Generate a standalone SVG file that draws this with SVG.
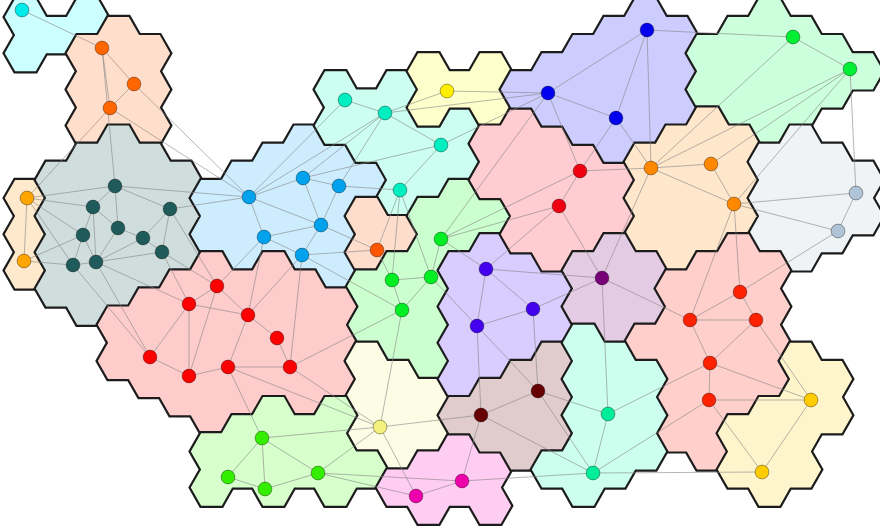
<svg xmlns="http://www.w3.org/2000/svg" xmlns:xlink="http://www.w3.org/1999/xlink" width="880" height="530" viewBox="0 0 880 530">
<style>
.o{fill:none;stroke:#1c1c1c;stroke-width:4.4;stroke-linejoin:miter}
.e line{stroke:#858585;stroke-width:0.8;stroke-opacity:0.75}
.n circle{r:6.9;stroke:#000;stroke-opacity:0.45;stroke-width:0.8}
</style>
<defs>
<path id="p-cyan" d="M4.8 17l10.33-18.1h20.67l10.33 18.1-10.33 18.1h-20.67zM4.8 53.2l10.33-18.1h20.67l10.33 18.1-10.33 18.1h-20.67zM35.8 35.1l10.33-18.1h20.67l10.33 18.1-10.33 18.1h-20.67zM66.8 17l10.33-18.1h20.67l10.33 18.1-10.33 18.1h-20.67z"/>
<path id="p-peach" d="M66.8 53.2l10.33-18.1h20.67l10.33 18.1-10.33 18.1h-20.67zM66.8 89.4l10.33-18.1h20.67l10.33 18.1-10.33 18.1h-20.67zM66.8 125.6l10.33-18.1h20.67l10.33 18.1-10.33 18.1h-20.67zM97.8 35.1l10.33-18.1h20.67l10.33 18.1-10.33 18.1h-20.67zM97.8 71.3l10.33-18.1h20.67l10.33 18.1-10.33 18.1h-20.67zM97.8 107.5l10.33-18.1h20.67l10.33 18.1-10.33 18.1h-20.67zM128.8 53.2l10.33-18.1h20.67l10.33 18.1-10.33 18.1h-20.67zM128.8 89.4l10.33-18.1h20.67l10.33 18.1-10.33 18.1h-20.67zM128.8 125.6l10.33-18.1h20.67l10.33 18.1-10.33 18.1h-20.67z"/>
<path id="p-beige" d="M4.8 198l10.33-18.1h20.67l10.33 18.1-10.33 18.1h-20.67zM4.8 234.2l10.33-18.1h20.67l10.33 18.1-10.33 18.1h-20.67zM4.8 270.4l10.33-18.1h20.67l10.33 18.1-10.33 18.1h-20.67z"/>
<path id="p-slate" d="M35.8 179.9l10.33-18.1h20.67l10.33 18.1-10.33 18.1h-20.67zM35.8 216.1l10.33-18.1h20.67l10.33 18.1-10.33 18.1h-20.67zM35.8 252.3l10.33-18.1h20.67l10.33 18.1-10.33 18.1h-20.67zM35.8 288.5l10.33-18.1h20.67l10.33 18.1-10.33 18.1h-20.67zM66.8 161.8l10.33-18.1h20.67l10.33 18.1-10.33 18.1h-20.67zM66.8 198l10.33-18.1h20.67l10.33 18.1-10.33 18.1h-20.67zM66.8 234.2l10.33-18.1h20.67l10.33 18.1-10.33 18.1h-20.67zM66.8 270.4l10.33-18.1h20.67l10.33 18.1-10.33 18.1h-20.67zM66.8 306.6l10.33-18.1h20.67l10.33 18.1-10.33 18.1h-20.67zM97.8 143.7l10.33-18.1h20.67l10.33 18.1-10.33 18.1h-20.67zM97.8 179.9l10.33-18.1h20.67l10.33 18.1-10.33 18.1h-20.67zM97.8 216.1l10.33-18.1h20.67l10.33 18.1-10.33 18.1h-20.67zM97.8 252.3l10.33-18.1h20.67l10.33 18.1-10.33 18.1h-20.67zM97.8 288.5l10.33-18.1h20.67l10.33 18.1-10.33 18.1h-20.67zM128.8 161.8l10.33-18.1h20.67l10.33 18.1-10.33 18.1h-20.67zM128.8 198l10.33-18.1h20.67l10.33 18.1-10.33 18.1h-20.67zM128.8 234.2l10.33-18.1h20.67l10.33 18.1-10.33 18.1h-20.67zM128.8 270.4l10.33-18.1h20.67l10.33 18.1-10.33 18.1h-20.67zM159.8 179.9l10.33-18.1h20.67l10.33 18.1-10.33 18.1h-20.67zM159.8 216.1l10.33-18.1h20.67l10.33 18.1-10.33 18.1h-20.67zM159.8 252.3l10.33-18.1h20.67l10.33 18.1-10.33 18.1h-20.67z"/>
<path id="p-blue" d="M190.8 198l10.33-18.1h20.67l10.33 18.1-10.33 18.1h-20.67zM190.8 234.2l10.33-18.1h20.67l10.33 18.1-10.33 18.1h-20.67zM221.8 179.9l10.33-18.1h20.67l10.33 18.1-10.33 18.1h-20.67zM221.8 216.1l10.33-18.1h20.67l10.33 18.1-10.33 18.1h-20.67zM221.8 252.3l10.33-18.1h20.67l10.33 18.1-10.33 18.1h-20.67zM252.8 161.8l10.33-18.1h20.67l10.33 18.1-10.33 18.1h-20.67zM252.8 198l10.33-18.1h20.67l10.33 18.1-10.33 18.1h-20.67zM252.8 234.2l10.33-18.1h20.67l10.33 18.1-10.33 18.1h-20.67zM283.8 143.7l10.33-18.1h20.67l10.33 18.1-10.33 18.1h-20.67zM283.8 179.9l10.33-18.1h20.67l10.33 18.1-10.33 18.1h-20.67zM283.8 216.1l10.33-18.1h20.67l10.33 18.1-10.33 18.1h-20.67zM283.8 252.3l10.33-18.1h20.67l10.33 18.1-10.33 18.1h-20.67zM314.8 161.8l10.33-18.1h20.67l10.33 18.1-10.33 18.1h-20.67zM314.8 198l10.33-18.1h20.67l10.33 18.1-10.33 18.1h-20.67zM314.8 234.2l10.33-18.1h20.67l10.33 18.1-10.33 18.1h-20.67zM314.8 270.4l10.33-18.1h20.67l10.33 18.1-10.33 18.1h-20.67zM345.8 179.9l10.33-18.1h20.67l10.33 18.1-10.33 18.1h-20.67z"/>
<path id="p-aqua" d="M314.8 89.4l10.33-18.1h20.67l10.33 18.1-10.33 18.1h-20.67zM314.8 125.6l10.33-18.1h20.67l10.33 18.1-10.33 18.1h-20.67zM345.8 107.5l10.33-18.1h20.67l10.33 18.1-10.33 18.1h-20.67zM345.8 143.7l10.33-18.1h20.67l10.33 18.1-10.33 18.1h-20.67zM376.8 89.4l10.33-18.1h20.67l10.33 18.1-10.33 18.1h-20.67zM376.8 125.6l10.33-18.1h20.67l10.33 18.1-10.33 18.1h-20.67zM376.8 161.8l10.33-18.1h20.67l10.33 18.1-10.33 18.1h-20.67zM376.8 198l10.33-18.1h20.67l10.33 18.1-10.33 18.1h-20.67zM407.8 143.7l10.33-18.1h20.67l10.33 18.1-10.33 18.1h-20.67zM407.8 179.9l10.33-18.1h20.67l10.33 18.1-10.33 18.1h-20.67zM438.8 125.6l10.33-18.1h20.67l10.33 18.1-10.33 18.1h-20.67zM438.8 161.8l10.33-18.1h20.67l10.33 18.1-10.33 18.1h-20.67z"/>
<path id="p-yellow" d="M407.8 71.3l10.33-18.1h20.67l10.33 18.1-10.33 18.1h-20.67zM407.8 107.5l10.33-18.1h20.67l10.33 18.1-10.33 18.1h-20.67zM438.8 89.4l10.33-18.1h20.67l10.33 18.1-10.33 18.1h-20.67zM469.8 71.3l10.33-18.1h20.67l10.33 18.1-10.33 18.1h-20.67zM469.8 107.5l10.33-18.1h20.67l10.33 18.1-10.33 18.1h-20.67z"/>
<path id="p-speach" d="M345.8 216.1l10.33-18.1h20.67l10.33 18.1-10.33 18.1h-20.67zM345.8 252.3l10.33-18.1h20.67l10.33 18.1-10.33 18.1h-20.67zM376.8 234.2l10.33-18.1h20.67l10.33 18.1-10.33 18.1h-20.67z"/>
<path id="p-gmid" d="M345.8 288.5l10.33-18.1h20.67l10.33 18.1-10.33 18.1h-20.67zM345.8 324.7l10.33-18.1h20.67l10.33 18.1-10.33 18.1h-20.67zM376.8 270.4l10.33-18.1h20.67l10.33 18.1-10.33 18.1h-20.67zM376.8 306.6l10.33-18.1h20.67l10.33 18.1-10.33 18.1h-20.67zM376.8 342.8l10.33-18.1h20.67l10.33 18.1-10.33 18.1h-20.67zM407.8 216.1l10.33-18.1h20.67l10.33 18.1-10.33 18.1h-20.67zM407.8 252.3l10.33-18.1h20.67l10.33 18.1-10.33 18.1h-20.67zM407.8 288.5l10.33-18.1h20.67l10.33 18.1-10.33 18.1h-20.67zM407.8 324.7l10.33-18.1h20.67l10.33 18.1-10.33 18.1h-20.67zM407.8 360.9l10.33-18.1h20.67l10.33 18.1-10.33 18.1h-20.67zM438.8 198l10.33-18.1h20.67l10.33 18.1-10.33 18.1h-20.67zM438.8 234.2l10.33-18.1h20.67l10.33 18.1-10.33 18.1h-20.67zM469.8 216.1l10.33-18.1h20.67l10.33 18.1-10.33 18.1h-20.67z"/>
<path id="p-redl" d="M97.8 324.7l10.33-18.1h20.67l10.33 18.1-10.33 18.1h-20.67zM97.8 360.9l10.33-18.1h20.67l10.33 18.1-10.33 18.1h-20.67zM128.8 306.6l10.33-18.1h20.67l10.33 18.1-10.33 18.1h-20.67zM128.8 342.8l10.33-18.1h20.67l10.33 18.1-10.33 18.1h-20.67zM128.8 379l10.33-18.1h20.67l10.33 18.1-10.33 18.1h-20.67zM159.8 288.5l10.33-18.1h20.67l10.33 18.1-10.33 18.1h-20.67zM159.8 324.7l10.33-18.1h20.67l10.33 18.1-10.33 18.1h-20.67zM159.8 360.9l10.33-18.1h20.67l10.33 18.1-10.33 18.1h-20.67zM159.8 397.1l10.33-18.1h20.67l10.33 18.1-10.33 18.1h-20.67zM190.8 270.4l10.33-18.1h20.67l10.33 18.1-10.33 18.1h-20.67zM190.8 306.6l10.33-18.1h20.67l10.33 18.1-10.33 18.1h-20.67zM190.8 342.8l10.33-18.1h20.67l10.33 18.1-10.33 18.1h-20.67zM190.8 379l10.33-18.1h20.67l10.33 18.1-10.33 18.1h-20.67zM190.8 415.2l10.33-18.1h20.67l10.33 18.1-10.33 18.1h-20.67zM221.8 288.5l10.33-18.1h20.67l10.33 18.1-10.33 18.1h-20.67zM221.8 324.7l10.33-18.1h20.67l10.33 18.1-10.33 18.1h-20.67zM221.8 360.9l10.33-18.1h20.67l10.33 18.1-10.33 18.1h-20.67zM221.8 397.1l10.33-18.1h20.67l10.33 18.1-10.33 18.1h-20.67zM252.8 270.4l10.33-18.1h20.67l10.33 18.1-10.33 18.1h-20.67zM252.8 306.6l10.33-18.1h20.67l10.33 18.1-10.33 18.1h-20.67zM252.8 342.8l10.33-18.1h20.67l10.33 18.1-10.33 18.1h-20.67zM252.8 379l10.33-18.1h20.67l10.33 18.1-10.33 18.1h-20.67zM283.8 288.5l10.33-18.1h20.67l10.33 18.1-10.33 18.1h-20.67zM283.8 324.7l10.33-18.1h20.67l10.33 18.1-10.33 18.1h-20.67zM283.8 360.9l10.33-18.1h20.67l10.33 18.1-10.33 18.1h-20.67zM283.8 397.1l10.33-18.1h20.67l10.33 18.1-10.33 18.1h-20.67zM314.8 306.6l10.33-18.1h20.67l10.33 18.1-10.33 18.1h-20.67zM314.8 342.8l10.33-18.1h20.67l10.33 18.1-10.33 18.1h-20.67zM314.8 379l10.33-18.1h20.67l10.33 18.1-10.33 18.1h-20.67z"/>
<path id="p-cream" d="M345.8 360.9l10.33-18.1h20.67l10.33 18.1-10.33 18.1h-20.67zM345.8 397.1l10.33-18.1h20.67l10.33 18.1-10.33 18.1h-20.67zM345.8 433.3l10.33-18.1h20.67l10.33 18.1-10.33 18.1h-20.67zM376.8 379l10.33-18.1h20.67l10.33 18.1-10.33 18.1h-20.67zM376.8 415.2l10.33-18.1h20.67l10.33 18.1-10.33 18.1h-20.67zM376.8 451.4l10.33-18.1h20.67l10.33 18.1-10.33 18.1h-20.67zM407.8 397.1l10.33-18.1h20.67l10.33 18.1-10.33 18.1h-20.67zM407.8 433.3l10.33-18.1h20.67l10.33 18.1-10.33 18.1h-20.67z"/>
<path id="p-gbot" d="M190.8 451.4l10.33-18.1h20.67l10.33 18.1-10.33 18.1h-20.67zM190.8 487.6l10.33-18.1h20.67l10.33 18.1-10.33 18.1h-20.67zM221.8 433.3l10.33-18.1h20.67l10.33 18.1-10.33 18.1h-20.67zM221.8 469.5l10.33-18.1h20.67l10.33 18.1-10.33 18.1h-20.67zM252.8 415.2l10.33-18.1h20.67l10.33 18.1-10.33 18.1h-20.67zM252.8 451.4l10.33-18.1h20.67l10.33 18.1-10.33 18.1h-20.67zM252.8 487.6l10.33-18.1h20.67l10.33 18.1-10.33 18.1h-20.67zM283.8 433.3l10.33-18.1h20.67l10.33 18.1-10.33 18.1h-20.67zM283.8 469.5l10.33-18.1h20.67l10.33 18.1-10.33 18.1h-20.67zM314.8 415.2l10.33-18.1h20.67l10.33 18.1-10.33 18.1h-20.67zM314.8 451.4l10.33-18.1h20.67l10.33 18.1-10.33 18.1h-20.67zM314.8 487.6l10.33-18.1h20.67l10.33 18.1-10.33 18.1h-20.67zM345.8 469.5l10.33-18.1h20.67l10.33 18.1-10.33 18.1h-20.67z"/>
<path id="p-pink" d="M376.8 487.6l10.33-18.1h20.67l10.33 18.1-10.33 18.1h-20.67zM407.8 469.5l10.33-18.1h20.67l10.33 18.1-10.33 18.1h-20.67zM407.8 505.7l10.33-18.1h20.67l10.33 18.1-10.33 18.1h-20.67zM438.8 451.4l10.33-18.1h20.67l10.33 18.1-10.33 18.1h-20.67zM438.8 487.6l10.33-18.1h20.67l10.33 18.1-10.33 18.1h-20.67zM469.8 469.5l10.33-18.1h20.67l10.33 18.1-10.33 18.1h-20.67zM469.8 505.7l10.33-18.1h20.67l10.33 18.1-10.33 18.1h-20.67z"/>
<path id="p-violet" d="M438.8 270.4l10.33-18.1h20.67l10.33 18.1-10.33 18.1h-20.67zM438.8 306.6l10.33-18.1h20.67l10.33 18.1-10.33 18.1h-20.67zM438.8 342.8l10.33-18.1h20.67l10.33 18.1-10.33 18.1h-20.67zM438.8 379l10.33-18.1h20.67l10.33 18.1-10.33 18.1h-20.67zM469.8 252.3l10.33-18.1h20.67l10.33 18.1-10.33 18.1h-20.67zM469.8 288.5l10.33-18.1h20.67l10.33 18.1-10.33 18.1h-20.67zM469.8 324.7l10.33-18.1h20.67l10.33 18.1-10.33 18.1h-20.67zM469.8 360.9l10.33-18.1h20.67l10.33 18.1-10.33 18.1h-20.67zM500.8 270.4l10.33-18.1h20.67l10.33 18.1-10.33 18.1h-20.67zM500.8 306.6l10.33-18.1h20.67l10.33 18.1-10.33 18.1h-20.67zM500.8 342.8l10.33-18.1h20.67l10.33 18.1-10.33 18.1h-20.67zM531.8 288.5l10.33-18.1h20.67l10.33 18.1-10.33 18.1h-20.67zM531.8 324.7l10.33-18.1h20.67l10.33 18.1-10.33 18.1h-20.67z"/>
<path id="p-brown" d="M438.8 415.2l10.33-18.1h20.67l10.33 18.1-10.33 18.1h-20.67zM469.8 397.1l10.33-18.1h20.67l10.33 18.1-10.33 18.1h-20.67zM469.8 433.3l10.33-18.1h20.67l10.33 18.1-10.33 18.1h-20.67zM500.8 379l10.33-18.1h20.67l10.33 18.1-10.33 18.1h-20.67zM500.8 415.2l10.33-18.1h20.67l10.33 18.1-10.33 18.1h-20.67zM500.8 451.4l10.33-18.1h20.67l10.33 18.1-10.33 18.1h-20.67zM531.8 360.9l10.33-18.1h20.67l10.33 18.1-10.33 18.1h-20.67zM531.8 397.1l10.33-18.1h20.67l10.33 18.1-10.33 18.1h-20.67zM531.8 433.3l10.33-18.1h20.67l10.33 18.1-10.33 18.1h-20.67z"/>
<path id="p-pred" d="M469.8 143.7l10.33-18.1h20.67l10.33 18.1-10.33 18.1h-20.67zM469.8 179.9l10.33-18.1h20.67l10.33 18.1-10.33 18.1h-20.67zM500.8 125.6l10.33-18.1h20.67l10.33 18.1-10.33 18.1h-20.67zM500.8 161.8l10.33-18.1h20.67l10.33 18.1-10.33 18.1h-20.67zM500.8 198l10.33-18.1h20.67l10.33 18.1-10.33 18.1h-20.67zM500.8 234.2l10.33-18.1h20.67l10.33 18.1-10.33 18.1h-20.67zM531.8 143.7l10.33-18.1h20.67l10.33 18.1-10.33 18.1h-20.67zM531.8 179.9l10.33-18.1h20.67l10.33 18.1-10.33 18.1h-20.67zM531.8 216.1l10.33-18.1h20.67l10.33 18.1-10.33 18.1h-20.67zM531.8 252.3l10.33-18.1h20.67l10.33 18.1-10.33 18.1h-20.67zM562.8 161.8l10.33-18.1h20.67l10.33 18.1-10.33 18.1h-20.67zM562.8 198l10.33-18.1h20.67l10.33 18.1-10.33 18.1h-20.67zM562.8 234.2l10.33-18.1h20.67l10.33 18.1-10.33 18.1h-20.67zM593.8 179.9l10.33-18.1h20.67l10.33 18.1-10.33 18.1h-20.67zM593.8 216.1l10.33-18.1h20.67l10.33 18.1-10.33 18.1h-20.67z"/>
<path id="p-bviol" d="M500.8 89.4l10.33-18.1h20.67l10.33 18.1-10.33 18.1h-20.67zM531.8 71.3l10.33-18.1h20.67l10.33 18.1-10.33 18.1h-20.67zM531.8 107.5l10.33-18.1h20.67l10.33 18.1-10.33 18.1h-20.67zM562.8 53.2l10.33-18.1h20.67l10.33 18.1-10.33 18.1h-20.67zM562.8 89.4l10.33-18.1h20.67l10.33 18.1-10.33 18.1h-20.67zM562.8 125.6l10.33-18.1h20.67l10.33 18.1-10.33 18.1h-20.67zM593.8 35.1l10.33-18.1h20.67l10.33 18.1-10.33 18.1h-20.67zM593.8 71.3l10.33-18.1h20.67l10.33 18.1-10.33 18.1h-20.67zM593.8 107.5l10.33-18.1h20.67l10.33 18.1-10.33 18.1h-20.67zM593.8 143.7l10.33-18.1h20.67l10.33 18.1-10.33 18.1h-20.67zM624.8 17l10.33-18.1h20.67l10.33 18.1-10.33 18.1h-20.67zM624.8 53.2l10.33-18.1h20.67l10.33 18.1-10.33 18.1h-20.67zM624.8 89.4l10.33-18.1h20.67l10.33 18.1-10.33 18.1h-20.67zM624.8 125.6l10.33-18.1h20.67l10.33 18.1-10.33 18.1h-20.67zM655.8 35.1l10.33-18.1h20.67l10.33 18.1-10.33 18.1h-20.67zM655.8 71.3l10.33-18.1h20.67l10.33 18.1-10.33 18.1h-20.67zM655.8 107.5l10.33-18.1h20.67l10.33 18.1-10.33 18.1h-20.67z"/>
<path id="p-gtr" d="M686.8 53.2l10.33-18.1h20.67l10.33 18.1-10.33 18.1h-20.67zM686.8 89.4l10.33-18.1h20.67l10.33 18.1-10.33 18.1h-20.67zM717.8 35.1l10.33-18.1h20.67l10.33 18.1-10.33 18.1h-20.67zM717.8 71.3l10.33-18.1h20.67l10.33 18.1-10.33 18.1h-20.67zM717.8 107.5l10.33-18.1h20.67l10.33 18.1-10.33 18.1h-20.67zM748.8 17l10.33-18.1h20.67l10.33 18.1-10.33 18.1h-20.67zM748.8 53.2l10.33-18.1h20.67l10.33 18.1-10.33 18.1h-20.67zM748.8 89.4l10.33-18.1h20.67l10.33 18.1-10.33 18.1h-20.67zM748.8 125.6l10.33-18.1h20.67l10.33 18.1-10.33 18.1h-20.67zM779.8 35.1l10.33-18.1h20.67l10.33 18.1-10.33 18.1h-20.67zM779.8 71.3l10.33-18.1h20.67l10.33 18.1-10.33 18.1h-20.67zM779.8 107.5l10.33-18.1h20.67l10.33 18.1-10.33 18.1h-20.67zM810.8 53.2l10.33-18.1h20.67l10.33 18.1-10.33 18.1h-20.67zM810.8 89.4l10.33-18.1h20.67l10.33 18.1-10.33 18.1h-20.67zM841.8 71.3l10.33-18.1h20.67l10.33 18.1-10.33 18.1h-20.67z"/>
<path id="p-porange" d="M624.8 161.8l10.33-18.1h20.67l10.33 18.1-10.33 18.1h-20.67zM624.8 198l10.33-18.1h20.67l10.33 18.1-10.33 18.1h-20.67zM624.8 234.2l10.33-18.1h20.67l10.33 18.1-10.33 18.1h-20.67zM655.8 143.7l10.33-18.1h20.67l10.33 18.1-10.33 18.1h-20.67zM655.8 179.9l10.33-18.1h20.67l10.33 18.1-10.33 18.1h-20.67zM655.8 216.1l10.33-18.1h20.67l10.33 18.1-10.33 18.1h-20.67zM655.8 252.3l10.33-18.1h20.67l10.33 18.1-10.33 18.1h-20.67zM686.8 125.6l10.33-18.1h20.67l10.33 18.1-10.33 18.1h-20.67zM686.8 161.8l10.33-18.1h20.67l10.33 18.1-10.33 18.1h-20.67zM686.8 198l10.33-18.1h20.67l10.33 18.1-10.33 18.1h-20.67zM686.8 234.2l10.33-18.1h20.67l10.33 18.1-10.33 18.1h-20.67zM717.8 143.7l10.33-18.1h20.67l10.33 18.1-10.33 18.1h-20.67zM717.8 179.9l10.33-18.1h20.67l10.33 18.1-10.33 18.1h-20.67zM717.8 216.1l10.33-18.1h20.67l10.33 18.1-10.33 18.1h-20.67z"/>
<path id="p-greyr" d="M748.8 161.8l10.33-18.1h20.67l10.33 18.1-10.33 18.1h-20.67zM748.8 198l10.33-18.1h20.67l10.33 18.1-10.33 18.1h-20.67zM748.8 234.2l10.33-18.1h20.67l10.33 18.1-10.33 18.1h-20.67zM779.8 143.7l10.33-18.1h20.67l10.33 18.1-10.33 18.1h-20.67zM779.8 179.9l10.33-18.1h20.67l10.33 18.1-10.33 18.1h-20.67zM779.8 216.1l10.33-18.1h20.67l10.33 18.1-10.33 18.1h-20.67zM779.8 252.3l10.33-18.1h20.67l10.33 18.1-10.33 18.1h-20.67zM810.8 161.8l10.33-18.1h20.67l10.33 18.1-10.33 18.1h-20.67zM810.8 198l10.33-18.1h20.67l10.33 18.1-10.33 18.1h-20.67zM810.8 234.2l10.33-18.1h20.67l10.33 18.1-10.33 18.1h-20.67zM841.8 179.9l10.33-18.1h20.67l10.33 18.1-10.33 18.1h-20.67zM841.8 216.1l10.33-18.1h20.67l10.33 18.1-10.33 18.1h-20.67z"/>
<path id="p-purple" d="M562.8 270.4l10.33-18.1h20.67l10.33 18.1-10.33 18.1h-20.67zM562.8 306.6l10.33-18.1h20.67l10.33 18.1-10.33 18.1h-20.67zM593.8 252.3l10.33-18.1h20.67l10.33 18.1-10.33 18.1h-20.67zM593.8 288.5l10.33-18.1h20.67l10.33 18.1-10.33 18.1h-20.67zM593.8 324.7l10.33-18.1h20.67l10.33 18.1-10.33 18.1h-20.67zM624.8 270.4l10.33-18.1h20.67l10.33 18.1-10.33 18.1h-20.67zM624.8 306.6l10.33-18.1h20.67l10.33 18.1-10.33 18.1h-20.67z"/>
<path id="p-redr" d="M624.8 342.8l10.33-18.1h20.67l10.33 18.1-10.33 18.1h-20.67zM655.8 288.5l10.33-18.1h20.67l10.33 18.1-10.33 18.1h-20.67zM655.8 324.7l10.33-18.1h20.67l10.33 18.1-10.33 18.1h-20.67zM655.8 360.9l10.33-18.1h20.67l10.33 18.1-10.33 18.1h-20.67zM655.8 397.1l10.33-18.1h20.67l10.33 18.1-10.33 18.1h-20.67zM655.8 433.3l10.33-18.1h20.67l10.33 18.1-10.33 18.1h-20.67zM686.8 270.4l10.33-18.1h20.67l10.33 18.1-10.33 18.1h-20.67zM686.8 306.6l10.33-18.1h20.67l10.33 18.1-10.33 18.1h-20.67zM686.8 342.8l10.33-18.1h20.67l10.33 18.1-10.33 18.1h-20.67zM686.8 379l10.33-18.1h20.67l10.33 18.1-10.33 18.1h-20.67zM686.8 415.2l10.33-18.1h20.67l10.33 18.1-10.33 18.1h-20.67zM686.8 451.4l10.33-18.1h20.67l10.33 18.1-10.33 18.1h-20.67zM717.8 252.3l10.33-18.1h20.67l10.33 18.1-10.33 18.1h-20.67zM717.8 288.5l10.33-18.1h20.67l10.33 18.1-10.33 18.1h-20.67zM717.8 324.7l10.33-18.1h20.67l10.33 18.1-10.33 18.1h-20.67zM717.8 360.9l10.33-18.1h20.67l10.33 18.1-10.33 18.1h-20.67zM717.8 397.1l10.33-18.1h20.67l10.33 18.1-10.33 18.1h-20.67zM748.8 270.4l10.33-18.1h20.67l10.33 18.1-10.33 18.1h-20.67zM748.8 306.6l10.33-18.1h20.67l10.33 18.1-10.33 18.1h-20.67zM748.8 342.8l10.33-18.1h20.67l10.33 18.1-10.33 18.1h-20.67zM748.8 379l10.33-18.1h20.67l10.33 18.1-10.33 18.1h-20.67z"/>
<path id="p-laqua" d="M531.8 469.5l10.33-18.1h20.67l10.33 18.1-10.33 18.1h-20.67zM562.8 342.8l10.33-18.1h20.67l10.33 18.1-10.33 18.1h-20.67zM562.8 379l10.33-18.1h20.67l10.33 18.1-10.33 18.1h-20.67zM562.8 415.2l10.33-18.1h20.67l10.33 18.1-10.33 18.1h-20.67zM562.8 451.4l10.33-18.1h20.67l10.33 18.1-10.33 18.1h-20.67zM562.8 487.6l10.33-18.1h20.67l10.33 18.1-10.33 18.1h-20.67zM593.8 360.9l10.33-18.1h20.67l10.33 18.1-10.33 18.1h-20.67zM593.8 397.1l10.33-18.1h20.67l10.33 18.1-10.33 18.1h-20.67zM593.8 433.3l10.33-18.1h20.67l10.33 18.1-10.33 18.1h-20.67zM593.8 469.5l10.33-18.1h20.67l10.33 18.1-10.33 18.1h-20.67zM624.8 379l10.33-18.1h20.67l10.33 18.1-10.33 18.1h-20.67zM624.8 415.2l10.33-18.1h20.67l10.33 18.1-10.33 18.1h-20.67zM624.8 451.4l10.33-18.1h20.67l10.33 18.1-10.33 18.1h-20.67z"/>
<path id="p-cyell" d="M717.8 433.3l10.33-18.1h20.67l10.33 18.1-10.33 18.1h-20.67zM717.8 469.5l10.33-18.1h20.67l10.33 18.1-10.33 18.1h-20.67zM748.8 415.2l10.33-18.1h20.67l10.33 18.1-10.33 18.1h-20.67zM748.8 451.4l10.33-18.1h20.67l10.33 18.1-10.33 18.1h-20.67zM748.8 487.6l10.33-18.1h20.67l10.33 18.1-10.33 18.1h-20.67zM779.8 360.9l10.33-18.1h20.67l10.33 18.1-10.33 18.1h-20.67zM779.8 397.1l10.33-18.1h20.67l10.33 18.1-10.33 18.1h-20.67zM779.8 433.3l10.33-18.1h20.67l10.33 18.1-10.33 18.1h-20.67zM779.8 469.5l10.33-18.1h20.67l10.33 18.1-10.33 18.1h-20.67zM810.8 379l10.33-18.1h20.67l10.33 18.1-10.33 18.1h-20.67zM810.8 415.2l10.33-18.1h20.67l10.33 18.1-10.33 18.1h-20.67z"/>
</defs>
<rect width="880" height="530" fill="#fff"/>
<g id="regions">
<g id="region-cyan"><use href="#p-cyan" class="o"/><use href="#p-cyan" fill="#ccffff"/></g>
<g id="region-peach"><use href="#p-peach" class="o"/><use href="#p-peach" fill="#ffdecc"/></g>
<g id="region-beige"><use href="#p-beige" class="o"/><use href="#p-beige" fill="#ffe9cc"/></g>
<g id="region-slate"><use href="#p-slate" class="o"/><use href="#p-slate" fill="#d0dddd"/></g>
<g id="region-blue"><use href="#p-blue" class="o"/><use href="#p-blue" fill="#cdedfe"/></g>
<g id="region-aqua"><use href="#p-aqua" class="o"/><use href="#p-aqua" fill="#ccfff0"/></g>
<g id="region-yellow"><use href="#p-yellow" class="o"/><use href="#p-yellow" fill="#ffffcc"/></g>
<g id="region-speach"><use href="#p-speach" class="o"/><use href="#p-speach" fill="#ffddcc"/></g>
<g id="region-gmid"><use href="#p-gmid" class="o"/><use href="#p-gmid" fill="#ccffcf"/></g>
<g id="region-redl"><use href="#p-redl" class="o"/><use href="#p-redl" fill="#ffcccc"/></g>
<g id="region-cream"><use href="#p-cream" class="o"/><use href="#p-cream" fill="#fdfde6"/></g>
<g id="region-gbot"><use href="#p-gbot" class="o"/><use href="#p-gbot" fill="#d6ffcc"/></g>
<g id="region-pink"><use href="#p-pink" class="o"/><use href="#p-pink" fill="#ffccf2"/></g>
<g id="region-violet"><use href="#p-violet" class="o"/><use href="#p-violet" fill="#d9ccff"/></g>
<g id="region-brown"><use href="#p-brown" class="o"/><use href="#p-brown" fill="#e0cccc"/></g>
<g id="region-pred"><use href="#p-pred" class="o"/><use href="#p-pred" fill="#ffccd1"/></g>
<g id="region-bviol"><use href="#p-bviol" class="o"/><use href="#p-bviol" fill="#ccccff"/></g>
<g id="region-gtr"><use href="#p-gtr" class="o"/><use href="#p-gtr" fill="#ccffdb"/></g>
<g id="region-porange"><use href="#p-porange" class="o"/><use href="#p-porange" fill="#ffe7cc"/></g>
<g id="region-greyr"><use href="#p-greyr" class="o"/><use href="#p-greyr" fill="#eff3f6"/></g>
<g id="region-purple"><use href="#p-purple" class="o"/><use href="#p-purple" fill="#e3cce3"/></g>
<g id="region-redr"><use href="#p-redr" class="o"/><use href="#p-redr" fill="#ffcfcc"/></g>
<g id="region-laqua"><use href="#p-laqua" class="o"/><use href="#p-laqua" fill="#ccffee"/></g>
<g id="region-cyell"><use href="#p-cyell" class="o"/><use href="#p-cyell" fill="#fff5cc"/></g>
</g>
<g id="connectors" class="e">
<line x1="22" y1="10" x2="102" y2="48"/>
<line x1="102" y1="48" x2="134" y2="84"/>
<line x1="102" y1="48" x2="110" y2="108"/>
<line x1="134" y1="84" x2="110" y2="108"/>
<line x1="102" y1="48" x2="115" y2="186"/>
<line x1="110" y1="108" x2="27" y2="198"/>
<line x1="134" y1="84" x2="249" y2="197"/>
<line x1="110" y1="108" x2="249" y2="197"/>
<line x1="27" y1="198" x2="24" y2="261"/>
<line x1="27" y1="198" x2="115" y2="186"/>
<line x1="27" y1="198" x2="93" y2="207"/>
<line x1="27" y1="198" x2="83" y2="235"/>
<line x1="27" y1="198" x2="73" y2="265"/>
<line x1="24" y1="261" x2="83" y2="235"/>
<line x1="24" y1="261" x2="73" y2="265"/>
<line x1="115" y1="186" x2="93" y2="207"/>
<line x1="115" y1="186" x2="118" y2="228"/>
<line x1="115" y1="186" x2="170" y2="209"/>
<line x1="93" y1="207" x2="83" y2="235"/>
<line x1="93" y1="207" x2="96" y2="262"/>
<line x1="93" y1="207" x2="118" y2="228"/>
<line x1="118" y1="228" x2="143" y2="238"/>
<line x1="118" y1="228" x2="96" y2="262"/>
<line x1="83" y1="235" x2="96" y2="262"/>
<line x1="83" y1="235" x2="73" y2="265"/>
<line x1="73" y1="265" x2="96" y2="262"/>
<line x1="96" y1="262" x2="143" y2="238"/>
<line x1="96" y1="262" x2="162" y2="252"/>
<line x1="143" y1="238" x2="170" y2="209"/>
<line x1="143" y1="238" x2="162" y2="252"/>
<line x1="170" y1="209" x2="162" y2="252"/>
<line x1="170" y1="209" x2="249" y2="197"/>
<line x1="115" y1="186" x2="249" y2="197"/>
<line x1="96" y1="262" x2="189" y2="304"/>
<line x1="96" y1="262" x2="150" y2="357"/>
<line x1="73" y1="265" x2="150" y2="357"/>
<line x1="162" y1="252" x2="189" y2="304"/>
<line x1="162" y1="252" x2="217" y2="286"/>
<line x1="170" y1="209" x2="217" y2="286"/>
<line x1="249" y1="197" x2="303" y2="178"/>
<line x1="249" y1="197" x2="321" y2="225"/>
<line x1="249" y1="197" x2="264" y2="237"/>
<line x1="303" y1="178" x2="339" y2="186"/>
<line x1="303" y1="178" x2="321" y2="225"/>
<line x1="339" y1="186" x2="321" y2="225"/>
<line x1="321" y1="225" x2="264" y2="237"/>
<line x1="321" y1="225" x2="302" y2="255"/>
<line x1="264" y1="237" x2="302" y2="255"/>
<line x1="264" y1="237" x2="217" y2="286"/>
<line x1="264" y1="237" x2="248" y2="315"/>
<line x1="302" y1="255" x2="248" y2="315"/>
<line x1="302" y1="255" x2="290" y2="367"/>
<line x1="302" y1="255" x2="377" y2="250"/>
<line x1="321" y1="225" x2="377" y2="250"/>
<line x1="339" y1="186" x2="400" y2="190"/>
<line x1="385" y1="113" x2="249" y2="197"/>
<line x1="385" y1="113" x2="303" y2="178"/>
<line x1="385" y1="113" x2="339" y2="186"/>
<line x1="345" y1="100" x2="249" y2="197"/>
<line x1="345" y1="100" x2="385" y2="113"/>
<line x1="385" y1="113" x2="441" y2="145"/>
<line x1="385" y1="113" x2="447" y2="91"/>
<line x1="385" y1="113" x2="548" y2="93"/>
<line x1="441" y1="145" x2="303" y2="178"/>
<line x1="441" y1="145" x2="400" y2="190"/>
<line x1="441" y1="145" x2="548" y2="93"/>
<line x1="447" y1="91" x2="548" y2="93"/>
<line x1="400" y1="190" x2="377" y2="250"/>
<line x1="400" y1="190" x2="431" y2="277"/>
<line x1="400" y1="190" x2="392" y2="280"/>
<line x1="377" y1="250" x2="392" y2="280"/>
<line x1="392" y1="280" x2="431" y2="277"/>
<line x1="392" y1="280" x2="402" y2="310"/>
<line x1="431" y1="277" x2="402" y2="310"/>
<line x1="431" y1="277" x2="441" y2="239"/>
<line x1="441" y1="239" x2="548" y2="93"/>
<line x1="441" y1="239" x2="580" y2="171"/>
<line x1="441" y1="239" x2="559" y2="206"/>
<line x1="441" y1="239" x2="486" y2="269"/>
<line x1="402" y1="310" x2="290" y2="367"/>
<line x1="402" y1="310" x2="380" y2="427"/>
<line x1="402" y1="310" x2="302" y2="255"/>
<line x1="431" y1="277" x2="477" y2="326"/>
<line x1="580" y1="171" x2="559" y2="206"/>
<line x1="580" y1="171" x2="548" y2="93"/>
<line x1="580" y1="171" x2="616" y2="118"/>
<line x1="580" y1="171" x2="651" y2="168"/>
<line x1="559" y1="206" x2="486" y2="269"/>
<line x1="559" y1="206" x2="602" y2="278"/>
<line x1="647" y1="30" x2="548" y2="93"/>
<line x1="647" y1="30" x2="616" y2="118"/>
<line x1="548" y1="93" x2="616" y2="118"/>
<line x1="647" y1="30" x2="793" y2="37"/>
<line x1="647" y1="30" x2="651" y2="168"/>
<line x1="616" y1="118" x2="651" y2="168"/>
<line x1="793" y1="37" x2="850" y2="69"/>
<line x1="793" y1="37" x2="651" y2="168"/>
<line x1="850" y1="69" x2="651" y2="168"/>
<line x1="850" y1="69" x2="711" y2="164"/>
<line x1="850" y1="69" x2="734" y2="204"/>
<line x1="850" y1="69" x2="856" y2="193"/>
<line x1="651" y1="168" x2="711" y2="164"/>
<line x1="711" y1="164" x2="734" y2="204"/>
<line x1="651" y1="168" x2="734" y2="204"/>
<line x1="734" y1="204" x2="856" y2="193"/>
<line x1="734" y1="204" x2="838" y2="231"/>
<line x1="856" y1="193" x2="838" y2="231"/>
<line x1="734" y1="204" x2="740" y2="292"/>
<line x1="734" y1="204" x2="690" y2="320"/>
<line x1="740" y1="292" x2="838" y2="231"/>
<line x1="740" y1="292" x2="690" y2="320"/>
<line x1="740" y1="292" x2="756" y2="320"/>
<line x1="690" y1="320" x2="756" y2="320"/>
<line x1="690" y1="320" x2="710" y2="363"/>
<line x1="756" y1="320" x2="710" y2="363"/>
<line x1="710" y1="363" x2="709" y2="400"/>
<line x1="690" y1="320" x2="602" y2="278"/>
<line x1="756" y1="320" x2="811" y2="400"/>
<line x1="710" y1="363" x2="811" y2="400"/>
<line x1="709" y1="400" x2="811" y2="400"/>
<line x1="709" y1="400" x2="762" y2="472"/>
<line x1="811" y1="400" x2="762" y2="472"/>
<line x1="710" y1="363" x2="608" y2="414"/>
<line x1="709" y1="400" x2="593" y2="473"/>
<line x1="762" y1="472" x2="593" y2="473"/>
<line x1="608" y1="414" x2="593" y2="473"/>
<line x1="608" y1="414" x2="602" y2="278"/>
<line x1="608" y1="414" x2="538" y2="391"/>
<line x1="538" y1="391" x2="593" y2="473"/>
<line x1="481" y1="415" x2="593" y2="473"/>
<line x1="602" y1="278" x2="533" y2="309"/>
<line x1="602" y1="278" x2="486" y2="269"/>
<line x1="602" y1="278" x2="651" y2="168"/>
<line x1="486" y1="269" x2="533" y2="309"/>
<line x1="486" y1="269" x2="477" y2="326"/>
<line x1="533" y1="309" x2="477" y2="326"/>
<line x1="533" y1="309" x2="538" y2="391"/>
<line x1="477" y1="326" x2="481" y2="415"/>
<line x1="477" y1="326" x2="538" y2="391"/>
<line x1="538" y1="391" x2="481" y2="415"/>
<line x1="481" y1="415" x2="462" y2="481"/>
<line x1="481" y1="415" x2="380" y2="427"/>
<line x1="380" y1="427" x2="262" y2="438"/>
<line x1="380" y1="427" x2="318" y2="473"/>
<line x1="380" y1="427" x2="416" y2="496"/>
<line x1="380" y1="427" x2="228" y2="367"/>
<line x1="380" y1="427" x2="290" y2="367"/>
<line x1="262" y1="438" x2="228" y2="477"/>
<line x1="262" y1="438" x2="265" y2="489"/>
<line x1="262" y1="438" x2="318" y2="473"/>
<line x1="228" y1="477" x2="265" y2="489"/>
<line x1="265" y1="489" x2="318" y2="473"/>
<line x1="262" y1="438" x2="228" y2="367"/>
<line x1="318" y1="473" x2="416" y2="496"/>
<line x1="318" y1="473" x2="462" y2="481"/>
<line x1="416" y1="496" x2="462" y2="481"/>
<line x1="462" y1="481" x2="593" y2="473"/>
<line x1="189" y1="304" x2="217" y2="286"/>
<line x1="189" y1="304" x2="150" y2="357"/>
<line x1="189" y1="304" x2="189" y2="376"/>
<line x1="217" y1="286" x2="248" y2="315"/>
<line x1="248" y1="315" x2="277" y2="338"/>
<line x1="150" y1="357" x2="189" y2="376"/>
<line x1="189" y1="376" x2="228" y2="367"/>
<line x1="189" y1="376" x2="217" y2="286"/>
<line x1="228" y1="367" x2="290" y2="367"/>
<line x1="277" y1="338" x2="290" y2="367"/>
<line x1="248" y1="315" x2="228" y2="367"/>
<line x1="189" y1="304" x2="248" y2="315"/>
</g>
<g id="nodes" class="n">
<g id="node-cyan-1"><circle cx="22" cy="10" fill="#00eaea"/></g>
<g id="node-peach-1"><circle cx="102" cy="48" fill="#ff6600"/></g>
<g id="node-peach-2"><circle cx="134" cy="84" fill="#ff6600"/></g>
<g id="node-peach-3"><circle cx="110" cy="108" fill="#ff6600"/></g>
<g id="node-beige-1"><circle cx="27" cy="198" fill="#ffa500"/></g>
<g id="node-beige-2"><circle cx="24" cy="261" fill="#ffa500"/></g>
<g id="node-slate-1"><circle cx="115" cy="186" fill="#1f5b5b"/></g>
<g id="node-slate-2"><circle cx="93" cy="207" fill="#1f5b5b"/></g>
<g id="node-slate-3"><circle cx="170" cy="209" fill="#1f5b5b"/></g>
<g id="node-slate-4"><circle cx="118" cy="228" fill="#1f5b5b"/></g>
<g id="node-slate-5"><circle cx="83" cy="235" fill="#1f5b5b"/></g>
<g id="node-slate-6"><circle cx="143" cy="238" fill="#1f5b5b"/></g>
<g id="node-slate-7"><circle cx="162" cy="252" fill="#1f5b5b"/></g>
<g id="node-slate-8"><circle cx="73" cy="265" fill="#1f5b5b"/></g>
<g id="node-slate-9"><circle cx="96" cy="262" fill="#1f5b5b"/></g>
<g id="node-blue-1"><circle cx="249" cy="197" fill="#00a2ee"/></g>
<g id="node-blue-2"><circle cx="303" cy="178" fill="#00a2ee"/></g>
<g id="node-blue-3"><circle cx="339" cy="186" fill="#00a2ee"/></g>
<g id="node-blue-4"><circle cx="321" cy="225" fill="#00a2ee"/></g>
<g id="node-blue-5"><circle cx="264" cy="237" fill="#00a2ee"/></g>
<g id="node-blue-6"><circle cx="302" cy="255" fill="#00a2ee"/></g>
<g id="node-aqua-1"><circle cx="345" cy="100" fill="#00eec0"/></g>
<g id="node-aqua-2"><circle cx="385" cy="113" fill="#00eec0"/></g>
<g id="node-aqua-3"><circle cx="441" cy="145" fill="#00eec0"/></g>
<g id="node-aqua-4"><circle cx="400" cy="190" fill="#00eec0"/></g>
<g id="node-yellow-1"><circle cx="447" cy="91" fill="#ffee00"/></g>
<g id="node-speach-1"><circle cx="377" cy="250" fill="#ff5500"/></g>
<g id="node-gmid-1"><circle cx="441" cy="239" fill="#00ee22"/></g>
<g id="node-gmid-2"><circle cx="431" cy="277" fill="#00ee22"/></g>
<g id="node-gmid-3"><circle cx="392" cy="280" fill="#00ee22"/></g>
<g id="node-gmid-4"><circle cx="402" cy="310" fill="#00ee22"/></g>
<g id="node-redl-1"><circle cx="189" cy="304" fill="#ff0000"/></g>
<g id="node-redl-2"><circle cx="217" cy="286" fill="#ff0000"/></g>
<g id="node-redl-3"><circle cx="248" cy="315" fill="#ff0000"/></g>
<g id="node-redl-4"><circle cx="277" cy="338" fill="#ff0000"/></g>
<g id="node-redl-5"><circle cx="150" cy="357" fill="#ff0000"/></g>
<g id="node-redl-6"><circle cx="189" cy="376" fill="#ff0000"/></g>
<g id="node-redl-7"><circle cx="228" cy="367" fill="#ff0000"/></g>
<g id="node-redl-8"><circle cx="290" cy="367" fill="#ff0000"/></g>
<g id="node-cream-1"><circle cx="380" cy="427" fill="#f3f07c"/></g>
<g id="node-gbot-1"><circle cx="262" cy="438" fill="#33ee00"/></g>
<g id="node-gbot-2"><circle cx="228" cy="477" fill="#33ee00"/></g>
<g id="node-gbot-3"><circle cx="265" cy="489" fill="#33ee00"/></g>
<g id="node-gbot-4"><circle cx="318" cy="473" fill="#33ee00"/></g>
<g id="node-pink-1"><circle cx="416" cy="496" fill="#ee00aa"/></g>
<g id="node-pink-2"><circle cx="462" cy="481" fill="#ee00aa"/></g>
<g id="node-violet-1"><circle cx="486" cy="269" fill="#4400ee"/></g>
<g id="node-violet-2"><circle cx="533" cy="309" fill="#4400ee"/></g>
<g id="node-violet-3"><circle cx="477" cy="326" fill="#4400ee"/></g>
<g id="node-brown-1"><circle cx="538" cy="391" fill="#660000"/></g>
<g id="node-brown-2"><circle cx="481" cy="415" fill="#660000"/></g>
<g id="node-pred-1"><circle cx="580" cy="171" fill="#ee0011"/></g>
<g id="node-pred-2"><circle cx="559" cy="206" fill="#ee0011"/></g>
<g id="node-bviol-1"><circle cx="647" cy="30" fill="#0000ee"/></g>
<g id="node-bviol-2"><circle cx="548" cy="93" fill="#0000ee"/></g>
<g id="node-bviol-3"><circle cx="616" cy="118" fill="#0000ee"/></g>
<g id="node-gtr-1"><circle cx="793" cy="37" fill="#00ee33"/></g>
<g id="node-gtr-2"><circle cx="850" cy="69" fill="#00ee33"/></g>
<g id="node-porange-1"><circle cx="651" cy="168" fill="#ff8800"/></g>
<g id="node-porange-2"><circle cx="711" cy="164" fill="#ff8800"/></g>
<g id="node-porange-3"><circle cx="734" cy="204" fill="#ff8800"/></g>
<g id="node-greyr-1"><circle cx="856" cy="193" fill="#b0c4d8"/></g>
<g id="node-greyr-2"><circle cx="838" cy="231" fill="#b0c4d8"/></g>
<g id="node-purple-1"><circle cx="602" cy="278" fill="#770077"/></g>
<g id="node-redr-1"><circle cx="740" cy="292" fill="#ff2200"/></g>
<g id="node-redr-2"><circle cx="690" cy="320" fill="#ff2200"/></g>
<g id="node-redr-3"><circle cx="756" cy="320" fill="#ff2200"/></g>
<g id="node-redr-4"><circle cx="710" cy="363" fill="#ff2200"/></g>
<g id="node-redr-5"><circle cx="709" cy="400" fill="#ff2200"/></g>
<g id="node-laqua-1"><circle cx="608" cy="414" fill="#00ee99"/></g>
<g id="node-laqua-2"><circle cx="593" cy="473" fill="#00ee99"/></g>
<g id="node-cyell-1"><circle cx="811" cy="400" fill="#ffcc00"/></g>
<g id="node-cyell-2"><circle cx="762" cy="472" fill="#ffcc00"/></g>
</g>
</svg>
